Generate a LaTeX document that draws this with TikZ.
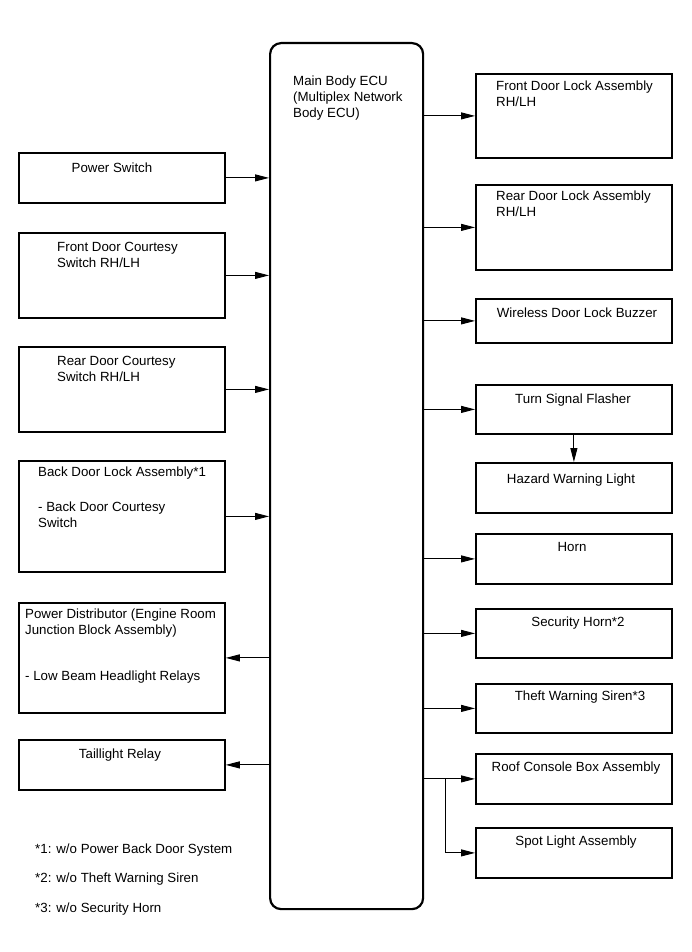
\documentclass[tikz,border=0pt]{standalone}
\usepackage{fontspec}
\setmainfont{Liberation Sans}
\usetikzlibrary{arrows.meta}

\begin{document}
\begin{tikzpicture}[x=1pt,y=-1pt,line join=miter,font=\fontsize{13.3}{16}\selectfont,
  box/.style={draw,line width=1.8pt,anchor=north west,inner sep=0pt},
  lbl/.style={inner sep=0pt,align=left,execute at begin node=\strut},
  arr/.style={-{Triangle[length=14pt,width=7pt]},line width=0.9pt}]
\useasboundingbox (0,0) rectangle (691,952);
% main body ECU
\node[draw,line width=2.2pt,rounded corners=11pt,anchor=north west,minimum width=153pt,minimum height=866pt,inner sep=0pt] (ecu) at (269,42) {};
\node[lbl,anchor=north west] (ecuT) at (293,76) {Main Body ECU\\(Multiplex Network\\Body ECU)};
% inputs, left column
\node[box,minimum width=206pt,minimum height=50pt] (ps) at (18,152) {};
\node[lbl,anchor=north] (psT) at (112,161) {Power Switch};
\node[box,minimum width=206pt,minimum height=85pt] (fdcs) at (18,232) {};
\node[lbl,anchor=north west] (fdcsT) at (57,242) {Front Door Courtesy\\Switch RH/LH};
\node[box,minimum width=206pt,minimum height=85pt] (rdcs) at (18,346) {};
\node[lbl,anchor=north west] (rdcsT) at (57,356) {Rear Door Courtesy\\Switch RH/LH};
\node[box,minimum width=206pt,minimum height=111pt] (bdl) at (18,460) {};
\node[lbl,anchor=north west] (bdlT) at (38,467) {Back Door Lock Assembly*1\\[19pt]- Back Door Courtesy\\Switch};
\node[box,minimum width=206pt,minimum height=110pt] (pd) at (18,602) {};
\node[lbl,anchor=north west] (pdT) at (25,609) {Power Distributor (Engine Room\\Junction Block Assembly)\\[30pt]- Low Beam Headlight Relays};
\node[box,minimum width=206pt,minimum height=50pt] (tr) at (18,739) {};
\node[lbl,anchor=north] (trT) at (120,747) {Taillight Relay};
\draw[arr] (ps.east) -- (ps.east -| ecu.west);
\draw[arr] (fdcs.east) -- (fdcs.east -| ecu.west);
\draw[arr] (rdcs.east) -- (rdcs.east -| ecu.west);
\draw[arr] (bdl.east) -- (bdl.east -| ecu.west);
\draw[arr] (pd.east -| ecu.west) -- (pd.east);
\draw[arr] (tr.east -| ecu.west) -- (tr.east);
% outputs, right column
\node[box,minimum width=196pt,minimum height=84pt] (fdl) at (475,73) {};
\node[lbl,anchor=north west] (fdlT) at (496,81) {Front Door Lock Assembly\\RH/LH};
\node[box,minimum width=196pt,minimum height=85pt] (rdl) at (475,184) {};
\node[lbl,anchor=north west] (rdlT) at (496,191) {Rear Door Lock Assembly\\RH/LH};
\node[box,minimum width=196pt,minimum height=44pt] (wdb) at (475,298) {};
\node[lbl,anchor=north] (wdbT) at (577,306) {Wireless Door Lock Buzzer};
\node[box,minimum width=196pt,minimum height=49pt] (tsf) at (475,384) {};
\node[lbl,anchor=north] (tsfT) at (573,392) {Turn Signal Flasher};
\node[box,minimum width=196pt,minimum height=50pt] (hwl) at (475,462) {};
\node[lbl,anchor=north] (hwlT) at (571,472) {Hazard Warning Light};
\node[box,minimum width=196pt,minimum height=50pt] (horn) at (475,533) {};
\node[lbl,anchor=north] (hornT) at (572,540) {Horn};
\node[box,minimum width=196pt,minimum height=49pt] (sh) at (475,608) {};
\node[lbl,anchor=north] (shT) at (578,615) {Security Horn*2};
\node[box,minimum width=196pt,minimum height=49pt] (tws) at (475,683) {};
\node[lbl,anchor=north] (twsT) at (580,689) {Theft Warning Siren*3};
\node[box,minimum width=196pt,minimum height=50pt] (rcb) at (475,753) {};
\node[lbl,anchor=north] (rcbT) at (576,760) {Roof Console Box Assembly};
\node[box,minimum width=196pt,minimum height=50pt] (sla) at (475,827) {};
\node[lbl,anchor=north] (slaT) at (576,834) {Spot Light Assembly};
\draw[arr] (ecu.east |- fdl.west) -- (fdl.west);
\draw[arr] (ecu.east |- rdl.west) -- (rdl.west);
\draw[arr] (ecu.east |- wdb.west) -- (wdb.west);
\draw[arr] (ecu.east |- tsf.west) -- (tsf.west);
\draw[arr] (tsf.south) -- (hwl.north);
\draw[arr] (ecu.east |- horn.west) -- (horn.west);
\draw[arr] (ecu.east |- sh.west) -- (sh.west);
\draw[arr] (ecu.east |- tws.west) -- (tws.west);
\draw[arr] (ecu.east |- rcb.west) -- (rcb.west);
\coordinate (brk) at (445,778);
\draw[arr] (brk) |- (sla.west);
% notes
\node[lbl,anchor=north west] (n1) at (35,842) {*1: w/o Power Back Door System};
\node[lbl,anchor=north west] (n2) at (35,871) {*2: w/o Theft Warning Siren};
\node[lbl,anchor=north west] (n3) at (35,901) {*3: w/o Security Horn};
\end{tikzpicture}
\end{document}
